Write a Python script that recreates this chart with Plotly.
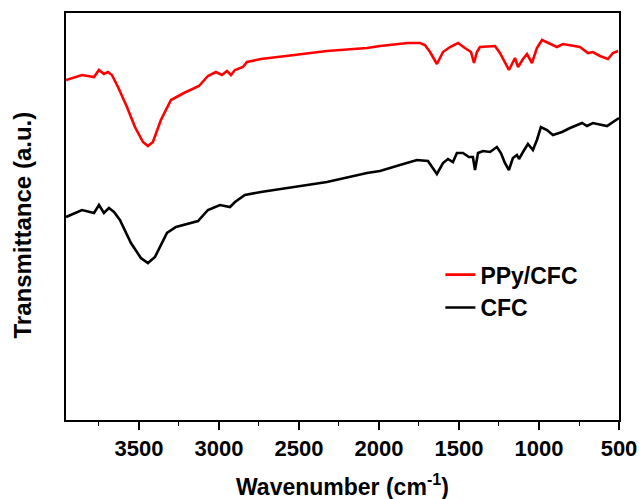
import plotly.graph_objects as go

# Wavenumber (cm-1) and transmittance (a.u.)
ppy_wn = [3956, 3856, 3781, 3750, 3719, 3694, 3669, 3631, 3575, 3525, 3475, 3444, 3413, 3363, 3300,
          3219, 3125, 3069, 3019, 2981, 2950, 2925, 2900, 2850, 2825, 2738, 2581, 2325, 2075, 1994,
          1819, 1744, 1713, 1681, 1638, 1600, 1556, 1506, 1463, 1425, 1406, 1388, 1369, 1275, 1244,
          1213, 1188, 1150, 1131, 1100, 1075, 1044, 1013, 981, 944, 888, 850, 744, 694, 663, 619,
          569, 538, 506]
ppy_t = [340, 345, 343, 350, 346, 348, 345, 333, 313, 293, 278, 274, 278, 300, 320,
         327, 334, 344, 348, 345, 349, 345, 350, 353, 358, 361, 364, 369, 372, 374,
         377, 377, 375, 368, 356, 368, 373, 377, 372, 368, 357, 368, 373, 374, 367,
         358, 350, 362, 353, 361, 366, 357, 372, 380, 377, 373, 376, 373, 367, 368, 364,
         361, 367, 369]

cfc_wn = [3956, 3856, 3781, 3750, 3719, 3688, 3656, 3619, 3550, 3488, 3444, 3400, 3325, 3269, 3131,
          3069, 2994, 2931, 2900, 2838, 2738, 2325, 2075, 1994, 1869, 1763, 1694, 1663, 1638, 1600,
          1569, 1538, 1513, 1475, 1438, 1413, 1400, 1381, 1350, 1306, 1263, 1238, 1213, 1188, 1163,
          1138, 1125, 1100, 1069, 1038, 1013, 988, 950, 913, 856, 806, 731, 700, 663, 575, 538, 500]
cfc_t = [203, 210, 207, 215, 207, 212, 208, 200, 177, 162, 157, 163, 187, 193, 199,
         210, 215, 213, 218, 225, 228, 238, 247, 249, 255, 260, 259, 252, 246, 257,
         261, 258, 267, 267, 263, 263, 250, 267, 269, 268, 273, 267, 257, 250, 262,
         265, 261, 268, 276, 270, 280, 293, 290, 285, 288, 292, 297, 294, 297, 294, 298, 302]

x_ticks = [3500, 3000, 2500, 2000, 1500, 1000, 500]

FONT = "Liberation Sans, Arial, sans-serif"

fig = go.Figure()
fig.add_trace(go.Scatter(x=ppy_wn, y=ppy_t, mode="lines", name="<b>PPy/CFC</b>",
                         line=dict(color="#FF0000", width=2.6)))
fig.add_trace(go.Scatter(x=cfc_wn, y=cfc_t, mode="lines", name="<b>CFC</b>",
                         line=dict(color="#000000", width=2.6)))

fig.update_layout(
    template="none",
    width=640, height=499,
    margin=dict(l=66, r=21, t=13, b=79, autoexpand=False),
    paper_bgcolor="white", plot_bgcolor="white",
    font=dict(family=FONT, color="black", size=22),
    showlegend=True,
    legend=dict(x=0.677, y=0.41, xanchor="left", yanchor="top",
                bgcolor="rgba(0,0,0,0)", font=dict(size=23, family=FONT),
                tracegroupgap=0),
    xaxis=dict(range=[3956, 500], showgrid=False, zeroline=False, automargin=False,
               showline=True, linecolor="black", linewidth=1.6, mirror=True,
               ticks="outside", ticklen=8, tickwidth=1.6, tickcolor="black",
               tickvals=x_ticks, ticktext=[f"<b>{v}</b>" for v in x_ticks],
               tickfont=dict(size=22, family=FONT),
               minor=dict(ticks="outside", ticklen=4, tickwidth=1.4, tickcolor="black",
                          dtick=250, tick0=500, showgrid=False)),
    yaxis=dict(range=[0, 407], showgrid=False, zeroline=False, automargin=False,
               showline=True, linecolor="black", linewidth=1.6, mirror=True,
               ticks="", showticklabels=False),
    annotations=[
        dict(text="<b>Wavenumber (cm<sup>-1</sup>)</b>", xref="paper", yref="paper",
             x=0.5, y=-0.16, xanchor="center", yanchor="middle", showarrow=False,
             font=dict(size=23, family=FONT)),
        dict(text="<b>Transmittance (a.u.)</b>", xref="paper", yref="paper",
             x=-0.078, y=0.48, xanchor="center", yanchor="middle", showarrow=False,
             textangle=-90, font=dict(size=24, family=FONT)),
    ],
)

fig.write_html("out.html")
